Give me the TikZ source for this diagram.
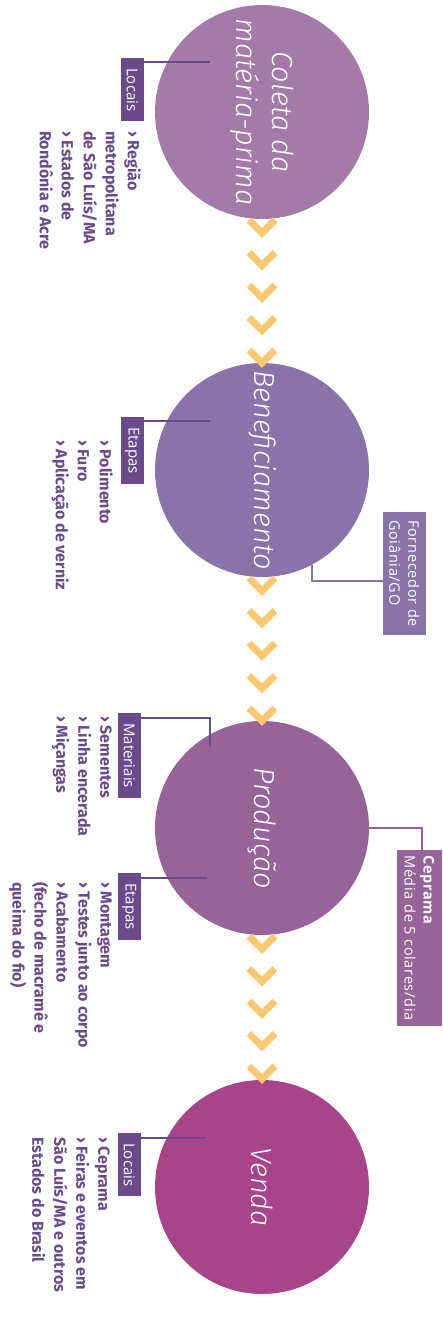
\documentclass[tikz,border=0pt]{standalone}
\usepackage{fontspec}
\setmainfont{Open Sans}
\newfontfamily\listfont{Fira Sans}
\newfontfamily\spacedfont{Open Sans}[LetterSpace=5]
\IfFontExistsTF{Fira Sans Light Italic}
 {\newfontfamily\circfont{Fira Sans Light Italic}}
 {\newfontfamily\circfontX{Fira Sans}\newcommand\circfont{\circfontX\itshape}}
\definecolor{cA}{HTML}{A47BA8}
\definecolor{cB}{HTML}{8973A8}
\definecolor{cC}{HTML}{966499}
\definecolor{cD}{HTML}{A8448A}
\definecolor{dk}{HTML}{6B4A8C}
\definecolor{chev}{HTML}{FBC76F}
\begin{document}
\begin{tikzpicture}[x=1pt,y=-1pt,
 stage/.style={circle, minimum size=214pt, inner sep=0pt},
 stagetext/.style={text=white, font=\circfont\fontsize{29}{36}\selectfont, align=center, rotate=-90, inner sep=0pt},
 tag/.style={fill=dk, text=white, font=\fontsize{15}{18}\selectfont, rotate=-90, inner xsep=10pt, inner ysep=0pt, minimum height=23pt, anchor=north west},
 items/.style={text=dk, font=\listfont\bfseries\fontsize{16}{22}\selectfont, align=left, rotate=-90, anchor=north west, inner sep=0pt},
 note/.style={text=white, font=\spacedfont\fontsize{14.5}{19}\selectfont, align=left, rotate=-90, anchor=north west, inner ysep=0pt},
 lead/.style={dk, line width=2pt},
 chevron/.style={chev, line width=7pt}]
\useasboundingbox[fill=white] (0,0) rectangle (442,1317);

% stages
\node[stage, fill=cA] (s1) at (262,112) {};
\node[stage, fill=cB] (s2) at (262,470) {};
\node[stage, fill=cC] (s3) at (262,828) {};
\node[stage, fill=cD] (s4) at (262,1187) {};
\node[stagetext] (s1t) at (s1.center) {Coleta da\\matéria-prima};
\node[stagetext] (s2t) at (s2.center) {Beneficiamento};
\node[stagetext] (s3t) at (s3.center) {Produção};
\node[stagetext] (s4t) at (s4.center) {Venda};

% chevrons
\foreach \c in {112,470,828}{
  \foreach \k in {0,...,4}{
    \draw[chevron] (249,\c+108+32.5*\k) -- (262,\c+121+32.5*\k) -- (275,\c+108+32.5*\k);
  }
}

% tags
\node[tag] (t1) at (144,58) {Locais};
\node[tag] (t2) at (144,417) {Etapas};
\node[tag] (t3) at (141,713) {Materiais};
\node[tag] (t4) at (141,873) {Etapas};
\node[tag] (t5) at (141,1133) {Locais};

\coordinate (e1) at (210,62);
\coordinate (e2) at (210,421);
\coordinate (e3) at (210,747);
\coordinate (e4) at (207,878);
\coordinate (e5) at (206,1138);
\draw[lead] ([yshift=-4pt]t1.north west) -- (e1);
\draw[lead] ([yshift=-4pt]t2.north west) -- (e2);
\draw[lead] ([yshift=-5pt]t3.north west) -| (e3);
\draw[lead] ([yshift=-5pt]t4.north west) -- (e4);
\draw[lead] ([yshift=-5pt]t5.north west) -- (e5);

% lists
\node[items] (l1) at (141,131) {› Região\\metropolitana\\de São Luís/MA\\› Estados de\\Rondônia e Acre};
\node[items] (l2) at (113,440) {› Polimento\\› Furo\\› Aplicação de verniz};
\node[items] (l3) at (112,716) {› Sementes\\› Linha encerada\\› Miçangas};
\node[items] (l4) at (112,882) {› Montagem\\› Testes junto ao corpo\\› Acabamento\\(fecho de macramê e\\queima do fio)};
\node[items] (l5) at (110,1137) {› Ceprama\\› Feiras e eventos em\\São Luís/MA e outros\\Estados do Brasil};

% side notes
\node[note, fill=cB, inner xsep=8pt, minimum height=43pt] (f) at (426,512) {Fornecedor de\\Goiânia/GO};
\node[note, fill=cC, inner xsep=5pt, minimum height=45pt] (cp) at (442,850) {{\bfseries Ceprama}\\Média de 5 colares/dia};
\draw[cB, line width=2pt] (s2.-62) |- ([yshift=-8pt]f.south);
\draw[cC, line width=2pt] (s3.east) -| ([xshift=2.5pt]cp.west);
\end{tikzpicture}
\end{document}
